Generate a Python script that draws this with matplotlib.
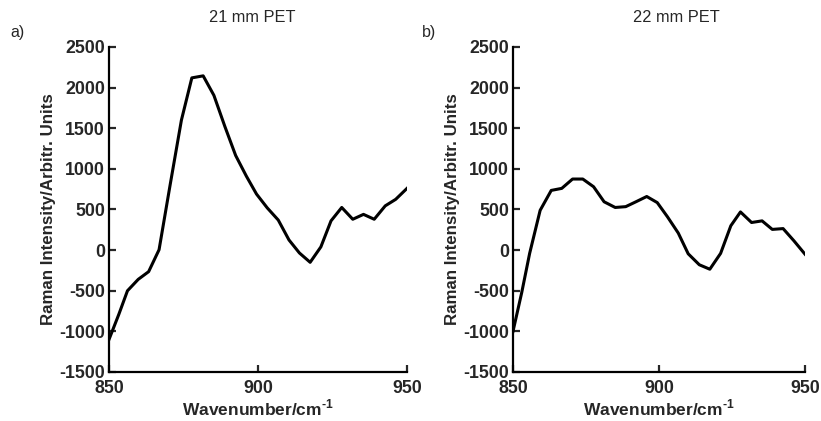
import matplotlib
matplotlib.use('Agg')
import matplotlib.pyplot as plt

plt.rcParams['font.family'] = ['Liberation Sans', 'DejaVu Sans']
plt.rcParams['axes.unicode_minus'] = False
plt.rcParams['mathtext.fontset'] = 'custom'
plt.rcParams['mathtext.rm'] = 'Liberation Sans:bold'
plt.rcParams['mathtext.bf'] = 'Liberation Sans:bold'

# 21 mm PET spectrum
wn_a = [850, 853.3, 856.2, 859.8, 863.3, 866.8, 870.5, 874.3, 877.8, 881.6,
        885.2, 888.9, 892.5, 896.1, 899.5, 903.1, 906.8, 910.4, 913.9, 917.5,
        921.1, 924.5, 928.1, 931.8, 935.4, 939.0, 942.7, 946.2, 950]
int_a = [-1100, -790, -500, -360, -265, 5, 800, 1600, 2120, 2145,
         1905, 1520, 1165, 910, 690, 520, 370, 125, -35, -150,
         40, 360, 525, 380, 440, 380, 545, 625, 760]

# 22 mm PET spectrum
wn_b = [850, 853.0, 855.7, 859.3, 863.1, 866.7, 870.4, 873.9, 877.6, 881.2,
        885.0, 888.6, 892.1, 895.8, 899.4, 902.9, 906.6, 910.0, 913.8, 917.4,
        921.1, 924.6, 927.9, 931.7, 935.3, 938.8, 942.5, 946.2, 950]
int_b = [-1000, -520, -40, 490, 735, 760, 875, 875, 780, 595,
         525, 535, 595, 660, 585, 410, 210, -45, -180, -235,
         -40, 300, 470, 340, 360, 255, 265, 115, -50]

panels = [
    ('21 mm PET', 'a)', wn_a, int_a, [109, 298], 252, 10),
    ('22 mm PET', 'b)', wn_b, int_b, [513, 292], 676, 422),
]

W, H = 821, 421
txt = '#262626'
fig = plt.figure(figsize=(W / 100, H / 100), dpi=100)

for title, tag, x, y, (left, width), tx, lx in panels:
    ax = fig.add_axes([left / W, 49 / H, width / W, 325 / H])
    ax.plot(x, y, color='black', lw=2.2)
    ax.set_xlim(850, 950)
    ax.set_ylim(-1500, 2500)
    ax.set_xticks([850, 900, 950])
    ax.set_yticks(range(-1500, 2501, 500))
    for s in ['top', 'right']:
        ax.spines[s].set_visible(False)
    for s in ['left', 'bottom']:
        ax.spines[s].set_linewidth(1.6)
    ax.tick_params(direction='in', length=5, width=1.6, labelsize=12.8,
                   colors=txt)
    ax.tick_params(axis='x', pad=6)
    ax.tick_params(axis='y', pad=3)
    for lab in ax.get_xticklabels() + ax.get_yticklabels():
        lab.set_fontweight('bold')
    ax.set_xlabel('Wavenumber/cm$^{\\text{-1}}$', fontsize=12.5,
                  fontweight='bold', color=txt, labelpad=0)
    ax.set_ylabel('Raman Intensity/Arbitr. Units', fontsize=12.2,
                  fontweight='bold', color=txt, labelpad=2)
    fig.text(tx / W, 1 - 18 / H, title, ha='center', va='center',
             fontsize=11.8, color=txt)
    fig.text(lx / W, 1 - 32 / H, tag, ha='left', va='center',
             fontsize=11.5, color=txt)

fig.savefig('out.png', dpi=100)
